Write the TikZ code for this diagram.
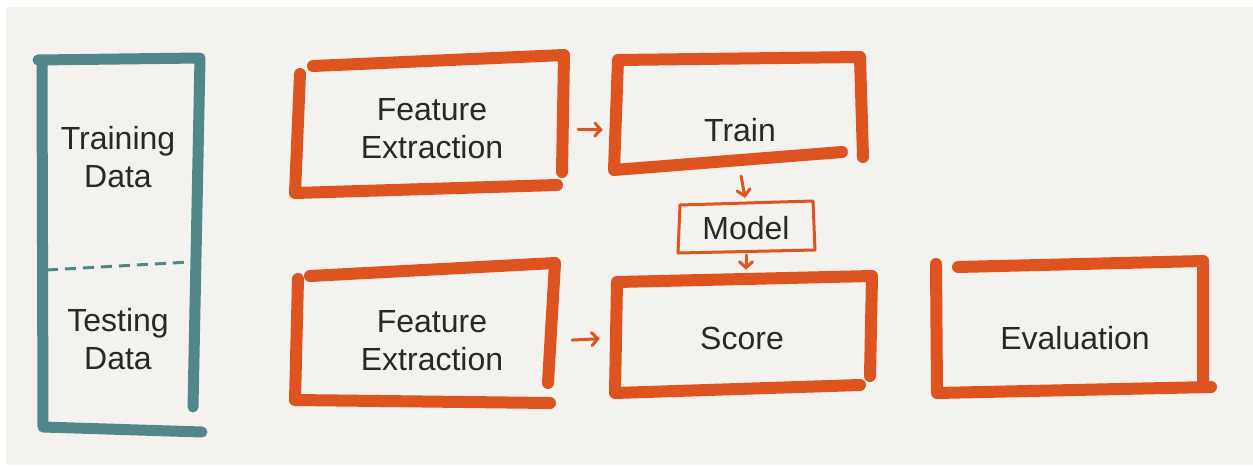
\documentclass[tikz,border=0pt]{standalone}
\usepackage{fontspec}
\setmainfont{Liberation Sans}
\usetikzlibrary{arrows.meta}
\definecolor{paper}{HTML}{F3F2EE}
\definecolor{marker}{HTML}{DE5421}
\definecolor{teal}{HTML}{52878A}
\definecolor{ink}{HTML}{282828}
\tikzset{
  hand/.style={draw=marker, line width=12pt, line cap=round, line join=round},
  datahand/.style={draw=teal, line width=11pt, line cap=round, line join=round},
  label/.style={text=ink, align=center, inner sep=0pt,
    font=\fontsize{32}{38}\selectfont},
  arr/.style={draw=marker, line width=3pt, line cap=round,
    -{Straight Barb[length=6pt,width=13pt,line cap=round]}},
}
\begin{document}
\begin{tikzpicture}[x=1pt,y=-1pt]
  % sheet
  \fill[white] (0,0) rectangle (1253,466);
  \fill[paper] (6,7) rectangle (1253,465);
  \useasboundingbox (0,0) rectangle (1253,466);

  % labels (node extents follow the drawn boxes)
  \node[label] (train-data) at (118,157) {Training\\Data};
  \node[label] (test-data)  at (118,339) {Testing\\Data};
  \node[label, minimum width=268, minimum height=120] (fe1) at (432,129) {Feature\\Extraction};
  \node[label, minimum width=250, minimum height=80]  (train) at (740,130) {Train};
  \node[label, minimum width=137, minimum height=50]  (model) at (746,228) {Model};
  \node[label, minimum width=240, minimum height=125] (fe2) at (432,341) {Feature\\Extraction};
  \node[label, minimum width=254, minimum height=120] (score) at (742,338) {Score};
  \node[label] (eval) at (1075,338) {Evaluation};

  % data column
  \draw[datahand] (38,60) -- (200,58) -- (193,407);
  \draw[datahand] (42,62) -- (43,427) -- (202,432);
  \draw[teal, line width=3pt, dash pattern=on 11pt off 7pt] (47,270) -- (190,262);

  % upper feature extraction
  \draw[hand] (313,66) -- (564,55) -- (562,172);
  \draw[hand] (300,74) -- (295,193) -- (557,185);

  % train
  \draw[hand] (842,152) -- (614,170) -- (618,60) -- (860,57) -- (863,157);

  % model
  \draw[marker, line width=3pt, line join=round]
    (680,205) -- (813,201) -- (815,250) -- (678,253) -- cycle;

  % score
  \draw[hand] (870,376) -- (872,276) -- (617,282) -- (615,393) -- (860,385);

  % lower feature extraction
  \draw[hand] (310,276) -- (555,263) -- (548,383);
  \draw[hand] (298,279) -- (295,400) -- (550,403);

  % evaluation
  \draw[hand] (958,267) -- (1203,261) -- (1203,380);
  \draw[hand] (936,264) -- (937,393) -- (1211,387);

  % connectors
  \draw[arr, shorten <=12pt, shorten >=12pt] (fe1.east) -- (train.west);
  \draw[arr, shorten <=6pt, shorten >=5pt] (train.south) -- (model.north);
  \draw[arr, shorten <=2pt, shorten >=8pt] (model.south) -- (model.south |- score.north);
  \draw[arr, shorten <=20pt, shorten >=15pt] (fe2.east) -- (score.west);
\end{tikzpicture}
\end{document}
